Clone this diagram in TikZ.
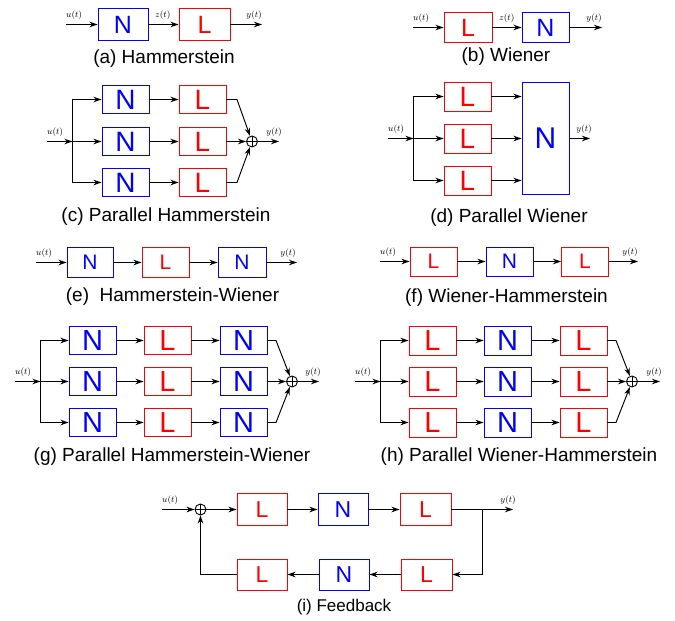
\documentclass[tikz,border=0pt]{standalone}
\usepackage{fontspec}
\setmainfont{Liberation Sans}
\usetikzlibrary{arrows.meta}
\newcommand{\fsz}[1]{\fontsize{#1}{#1}\selectfont}
\tikzset{
  arr/.style={-{Stealth[length=8pt,width=5.5pt]}, line width=0.95pt},
  ln/.style={line width=0.95pt},
  blk/.style={line width=0.95pt, inner sep=0pt, minimum width=47pt, minimum height=29pt},
  nb/.style={blk, draw=blue, text=blue},
  lb/.style={blk, draw=red, text=red},
  sumnode/.style={circle, draw, line width=0.9pt, minimum size=11pt, inner sep=0pt,
    path picture={\draw[line width=0.9pt] (path picture bounding box.north) -- (path picture bounding box.south)
      (path picture bounding box.west) -- (path picture bounding box.east);}},
  lab/.style={inner sep=0pt, font=\fsz{9}},
  captxt/.style={inner sep=0pt, font=\fsz{19}},
}
\begin{document}
\begin{tikzpicture}[x=1pt,y=-1pt]
\useasboundingbox (0,0) rectangle (675,621);

% (a) Hammerstein
\node[nb, minimum width=50pt, minimum height=32pt, font=\fsz{25}] (aN) at (123,24.5) {N};
\node[lb, minimum width=51pt, minimum height=32pt, font=\fsz{25}] (aL) at (204.5,24.5) {L};
\coordinate (ain) at (66,24.5);
\coordinate (aout) at (262,24.5);
\draw[arr] (ain) -- (aN);
\draw[arr] (aN) -- (aL);
\draw[arr] (aL) -- (aout);
\node[lab, anchor=south west] (au) at (66,19.5) {$u(t)$};
\node[lab, anchor=south west] (az) at (155,19.5) {$z(t)$};
\node[lab, anchor=south east] (ay) at (262,19.5) {$y(t)$};
\node[captxt] (acap) at (164,59) {(a) Hammerstein};

% (b) Wiener
\node[lb, minimum width=48pt, minimum height=30pt, font=\fsz{25}] (bL) at (468,27.5) {L};
\node[nb, minimum width=47pt, minimum height=30pt, font=\fsz{25}] (bN) at (545.5,27.5) {N};
\coordinate (bin) at (413,27.5);
\coordinate (bout) at (602,27.5);
\draw[arr] (bin) -- (bL);
\draw[arr] (bL) -- (bN);
\draw[arr] (bN) -- (bout);
\node[lab, anchor=south west] (bu) at (413,22.5) {$u(t)$};
\node[lab, anchor=south west] (bz) at (499,22.5) {$z(t)$};
\node[lab, anchor=south east] (by) at (602,22.5) {$y(t)$};
\node[captxt] (bcap) at (506,57) {(b) Wiener};

% (c) Parallel Hammerstein
\foreach \r/\yy in {1/99.5,2/141.5,3/182.5}{
  \node[nb, minimum height=28.5pt, font=\fsz{28}] (cN\r) at (125.5,\yy) {N};
  \node[lb, minimum height=28.5pt, font=\fsz{28}] (cL\r) at (202.5,\yy) {L};
  \draw[arr] (cN\r) -- (cL\r);
}
\coordinate (cin) at (47,141.5);
\coordinate (csp) at (72.5,141.5);
\node[sumnode] (csum) at (252,141.5) {};
\coordinate (cout) at (279,141.5);
\coordinate (ck1) at (237,99.5);
\coordinate (ck3) at (237,182.5);
\draw[arr] (cin) -- (csp);
\draw[arr] (csp) |- (cN1.west);
\draw[arr] (csp) -- (cN2.west);
\draw[arr] (csp) |- (cN3.west);
\draw[arr] (cL1.east) -- (ck1) -- (csum);
\draw[arr] (cL2.east) -- (csum);
\draw[arr] (cL3.east) -- (ck3) -- (csum);
\draw[arr] (csum) -- (cout);
\node[lab, anchor=south west] (cu) at (47,136.5) {$u(t)$};
\node[lab, anchor=south east] (cy) at (282,136.5) {$y(t)$};
\node[captxt] (ccap) at (166,217) {(c) Parallel Hammerstein};

% (d) Parallel Wiener
\node[nb, minimum height=112pt, font=\fsz{30}] (dN) at (545.5,138) {N};
\foreach \r/\yy in {1/96.5,2/138.5,3/180.5}{
  \node[lb, font=\fsz{28}] (dL\r) at (467.5,\yy) {L};
  \draw[arr] (dL\r.east) -- (dL\r.east -| dN.west);
}
\coordinate (din) at (388,138.5);
\coordinate (dsp) at (413.5,138.5);
\coordinate (dout) at (590,138.5);
\draw[arr] (din) -- (dsp);
\draw[arr] (dsp) |- (dL1.west);
\draw[arr] (dsp) -- (dL2.west);
\draw[arr] (dsp) |- (dL3.west);
\draw[arr] (dN.east |- dout) -- (dout);
\node[lab, anchor=south west] (du) at (388,133.5) {$u(t)$};
\node[lab, anchor=south east] (dy) at (592,133.5) {$y(t)$};
\node[captxt] (dcap) at (509,218) {(d) Parallel Wiener};

% (e) Hammerstein-Wiener
\node[nb, minimum width=46pt, minimum height=30pt, font=\fsz{21}] (eN1) at (90,262.5) {N};
\node[lb, minimum height=30pt, font=\fsz{21}] (eL) at (165.5,262.5) {L};
\node[nb, minimum width=48pt, minimum height=30pt, font=\fsz{21}] (eN2) at (242,262.5) {N};
\coordinate (ein) at (36,262.5);
\coordinate (eout) at (297,262.5);
\draw[arr] (ein) -- (eN1);
\draw[arr] (eN1) -- (eL);
\draw[arr] (eL) -- (eN2);
\draw[arr] (eN2) -- (eout);
\node[lab, anchor=south west] (eu) at (36,257.5) {$u(t)$};
\node[lab, anchor=south east] (ey) at (296,257.5) {$y(t)$};
\node[captxt] (ecap) at (172.5,297) {(e)\ \ Hammerstein-Wiener};

% (f) Wiener-Hammerstein
\node[lb, font=\fsz{21}] (fL1) at (433.5,261.5) {L};
\node[nb, font=\fsz{21}] (fN) at (509.5,261.5) {N};
\node[lb, font=\fsz{21}] (fL2) at (585,261.5) {L};
\coordinate (fin) at (380,261.5);
\coordinate (fout) at (638,261.5);
\draw[arr] (fin) -- (fL1);
\draw[arr] (fL1) -- (fN);
\draw[arr] (fN) -- (fL2);
\draw[arr] (fL2) -- (fout);
\node[lab, anchor=south west] (fu) at (380,256.5) {$u(t)$};
\node[lab, anchor=south east] (fy) at (638,256.5) {$y(t)$};
\node[captxt] (fcap) at (506.5,298) {(f) Wiener-Hammerstein};

% (g) Parallel Hammerstein-Wiener
\foreach \r/\yy in {1/340.5,2/381.5,3/422.5}{
  \node[nb, minimum height=28.5pt, font=\fsz{29}] (gA\r) at (92.5,\yy) {N};
  \node[lb, minimum height=28.5pt, font=\fsz{29}] (gB\r) at (167.5,\yy) {L};
  \node[nb, minimum height=28.5pt, font=\fsz{29}] (gC\r) at (243.5,\yy) {N};
  \draw[arr] (gA\r) -- (gB\r);
  \draw[arr] (gB\r) -- (gC\r);
}
\coordinate (gin) at (15,381.5);
\coordinate (gsp) at (40.5,381.5);
\node[sumnode] (gsum) at (292,381.5) {};
\coordinate (gout) at (319,381.5);
\coordinate (gk1) at (276,340.5);
\coordinate (gk3) at (276,422.5);
\draw[arr] (gin) -- (gsp);
\draw[arr] (gsp) |- (gA1.west);
\draw[arr] (gsp) -- (gA2.west);
\draw[arr] (gsp) |- (gA3.west);
\draw[arr] (gC1.east) -- (gk1) -- (gsum);
\draw[arr] (gC2.east) -- (gsum);
\draw[arr] (gC3.east) -- (gk3) -- (gsum);
\draw[arr] (gsum) -- (gout);
\node[lab, anchor=south west] (gu) at (15,376.5) {$u(t)$};
\node[lab, anchor=south east] (gy) at (321,376.5) {$y(t)$};
\node[captxt] (gcap) at (172,457) {(g) Parallel Hammerstein-Wiener};

% (h) Parallel Wiener-Hammerstein
\foreach \r/\yy in {1/340.5,2/381.5,3/422.5}{
  \node[lb, font=\fsz{29}] (hA\r) at (432.5,\yy) {L};
  \node[nb, font=\fsz{29}] (hB\r) at (507.5,\yy) {N};
  \node[lb, font=\fsz{29}] (hC\r) at (583.5,\yy) {L};
  \draw[arr] (hA\r) -- (hB\r);
  \draw[arr] (hB\r) -- (hC\r);
}
\coordinate (hin) at (355,381.5);
\coordinate (hsp) at (380.5,381.5);
\node[sumnode] (hsum) at (632,381.5) {};
\coordinate (hout) at (660,381.5);
\coordinate (hk1) at (616,340.5);
\coordinate (hk3) at (616,422.5);
\draw[arr] (hin) -- (hsp);
\draw[arr] (hsp) |- (hA1.west);
\draw[arr] (hsp) -- (hA2.west);
\draw[arr] (hsp) |- (hA3.west);
\draw[arr] (hC1.east) -- (hk1) -- (hsum);
\draw[arr] (hC2.east) -- (hsum);
\draw[arr] (hC3.east) -- (hk3) -- (hsum);
\draw[arr] (hsum) -- (hout);
\node[lab, anchor=south west] (hu) at (355,376.5) {$u(t)$};
\node[lab, anchor=south east] (hy) at (662,376.5) {$y(t)$};
\node[captxt] (hcap) at (519,457) {(h) Parallel Wiener-Hammerstein};

% (i) Feedback
\node[lb, minimum width=50pt, minimum height=32pt, font=\fsz{23}] (iT1) at (262,509.5) {L};
\node[nb, minimum width=50pt, minimum height=32pt, font=\fsz{23}] (iT2) at (343,509.5) {N};
\node[lb, minimum width=51pt, minimum height=32pt, font=\fsz{23}] (iT3) at (425.5,509.5) {L};
\node[lb, minimum width=50pt, minimum height=31pt, font=\fsz{23}] (iB1) at (262,574.5) {L};
\node[nb, minimum width=50pt, minimum height=31pt, font=\fsz{23}] (iB2) at (344,574.5) {N};
\node[lb, minimum width=51pt, minimum height=31pt, font=\fsz{23}] (iB3) at (426.5,574.5) {L};
\node[sumnode] (isum) at (200.5,509.5) {};
\coordinate (iin) at (162,509.5);
\coordinate (iout) at (513,509.5);
\coordinate (ibt) at (482.5,509.5);
\coordinate (ibb) at (482.5,574.5);
\draw[arr] (iin) -- (isum);
\draw[arr] (isum) -- (iT1);
\draw[arr] (iT1) -- (iT2);
\draw[arr] (iT2) -- (iT3);
\draw[arr] (iT3) -- (iout);
\draw[ln] (ibt) -- (ibb);
\draw[arr] (ibb) -- (iB3);
\draw[arr] (iB3) -- (iB2);
\draw[arr] (iB2) -- (iB1);
\draw[arr] (iB1.west) -| (isum);
\node[lab, anchor=south west] (iu) at (162,504.5) {$u(t)$};
\node[lab, anchor=south east] (iy) at (516,504.5) {$y(t)$};
\node[captxt, font=\fsz{17}] (icap) at (344,607) {(i) Feedback};
\end{tikzpicture}
\end{document}
